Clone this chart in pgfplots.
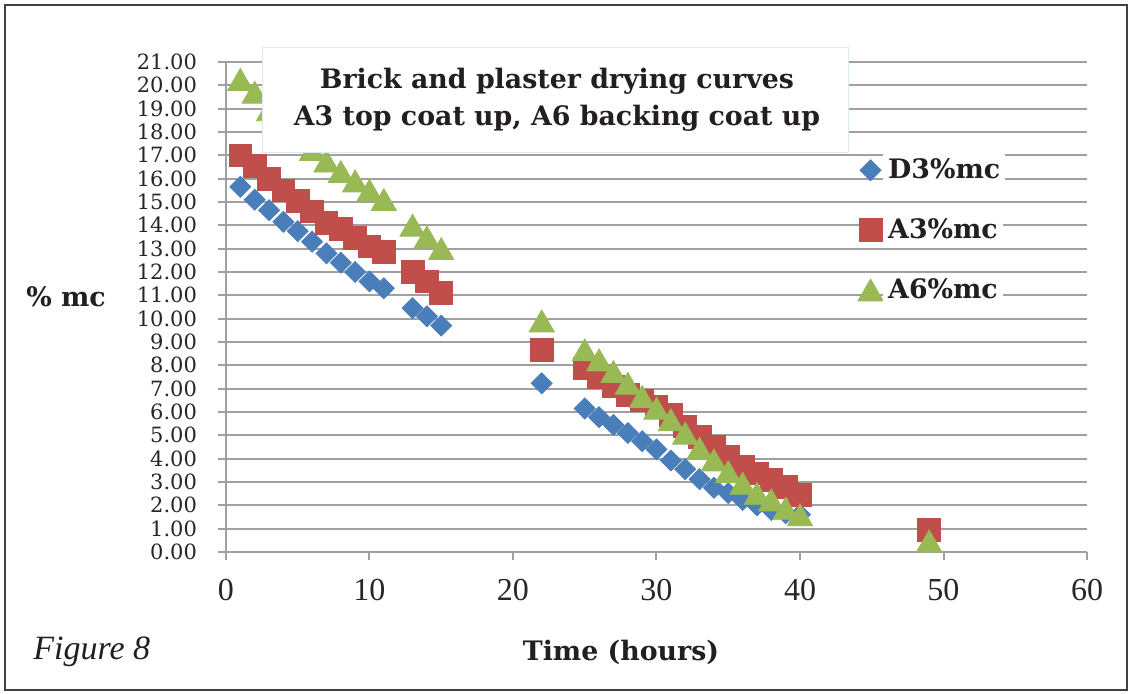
\documentclass[border=0pt]{standalone}
\usepackage{pgfplots}
\pgfplotsset{compat=1.18}
\usepackage{fontspec}
\setmainfont{DejaVu Serif}
\newfontfamily\xtickfont{Liberation Serif}
\newfontfamily\ytickfont{DejaVu Serif}
\newfontfamily\figfont{Liberation Serif}
\definecolor{d3blue}{RGB}{74,126,187}
\definecolor{a3red}{RGB}{192,78,75}
\definecolor{a6green}{RGB}{152,185,84}
\definecolor{gridgray}{RGB}{160,160,160}
\definecolor{txt}{RGB}{35,31,32}
\definecolor{boxline}{RGB}{218,234,242}
\begin{document}
\begin{tikzpicture}
\useasboundingbox (0,0) rectangle (566pt,346.5pt);
\fill[white] (0,0) rectangle (566pt,346.5pt);
\draw[black!75, line width=0.8pt] (2.5pt,1.5pt) rectangle (563.5pt,344pt);
\begin{axis}[
  at={(113pt,70.5pt)}, anchor=south west,
  scale only axis, width=430.5pt, height=245pt,
  xmin=0, xmax=60, ymin=0, ymax=21,
  xtick={0,10,...,60}, ytick={0,1,...,21},
  axis lines*=left,
  axis line style={gridgray, line width=1pt},
  ymajorgrids, grid style={gridgray, line width=1pt},
  tick style={gridgray, line width=1pt},
  major tick length=4pt, tick align=outside,
  /pgf/number format/assume math mode=true,
  yticklabel={\pgfmathprintnumber[fixed,fixed zerofill,precision=2]{\tick}},
  yticklabel style={font=\ytickfont\fontsize{10.5}{10.5}\selectfont, text=black!85, xshift=-7pt},
  xticklabel style={font=\xtickfont\fontsize{16}{16}\selectfont, text=black!85, yshift=-6pt},
  clip=false,
  legend style={at={(0.7265,0.8215)}, anchor=north west, draw=none, fill=none,
    row sep=13.5pt, font=\bfseries\fontsize{13.4}{13.4}\selectfont, text=txt,
    nodes={fill=white, inner sep=2.5pt}},
  legend cell align=left,
]
\addplot[only marks, mark=square*, mark size=3.7pt, color=d3blue, mark options={rotate=45}] coordinates {
(1,15.65) (2,15.1) (3,14.65) (4,14.15) (5,13.75) (6,13.3) (7,12.8) (8,12.4) (9,12.0) (10,11.6) (11,11.3)
(13,10.45) (14,10.1) (15,9.7) (22,7.23)
(25,6.15) (26,5.78) (27,5.45) (28,5.1) (29,4.75) (30,4.4) (31,3.92) (32,3.55) (33,3.12) (34,2.75)
(35,2.52) (36,2.23) (37,2.0) (38,1.8) (39,1.66) (40,1.6)
};
\addlegendentry{D3\%mc}
\addplot[only marks, mark=square*, mark size=5.7pt, color=a3red] coordinates {
(1,17.0) (2,16.55) (3,16.0) (4,15.5) (5,15.05) (6,14.6) (7,14.1) (8,13.85) (9,13.45) (10,13.1) (11,12.85)
(13,12.0) (14,11.6) (15,11.1) (22,8.66)
(25,7.87) (26,7.52) (27,7.1) (28,6.75) (29,6.5) (30,6.22) (31,5.87) (32,5.38) (33,4.94) (34,4.5)
(35,4.1) (36,3.66) (37,3.37) (38,3.08) (39,2.8) (40,2.45) (49,0.94)
};
\addlegendentry{A3\%mc}
\addplot[only marks, mark=triangle*, mark size=7.3pt, color=a6green, mark options={yshift=-1.8pt}] coordinates {
(1,20.25) (2,19.7) (3,18.95) (4,18.4) (5,17.8) (6,17.25) (7,16.75) (8,16.3) (9,15.9) (10,15.5) (11,15.1)
(13,14.0) (14,13.5) (15,13.0) (22,9.9)
(25,8.66) (26,8.23) (27,7.73) (28,7.23) (29,6.66) (30,6.16) (31,5.66) (32,5.09) (33,4.44) (34,3.94)
(35,3.44) (36,2.94) (37,2.51) (38,2.23) (39,1.87) (40,1.59) (49,0.47)
};
\addlegendentry{A6\%mc}
\end{axis}
\node[fill=white, draw=boxline, line width=0.5pt, minimum width=293pt, minimum height=52.5pt, inner sep=0pt, anchor=north west] at (131pt,323pt) {};
\node[align=center, font=\bfseries\fontsize{13.4}{18.5}\selectfont, text=txt] at (278.5pt,296.5pt) {Brick and plaster drying curves\\A3 top coat up, A6 backing coat up};
\node[font=\bfseries\fontsize{13.4}{13.4}\selectfont, text=txt] at (33pt,198pt) {\% mc};
\node[font=\bfseries\fontsize{13.4}{13.4}\selectfont, text=txt] at (310.5pt,20.5pt) {Time (hours)};
\node[anchor=west, font=\figfont\itshape\fontsize{17}{17}\selectfont, text=txt, inner sep=0pt] at (16.5pt,20.5pt) {Figure 8};
\end{tikzpicture}
\end{document}
